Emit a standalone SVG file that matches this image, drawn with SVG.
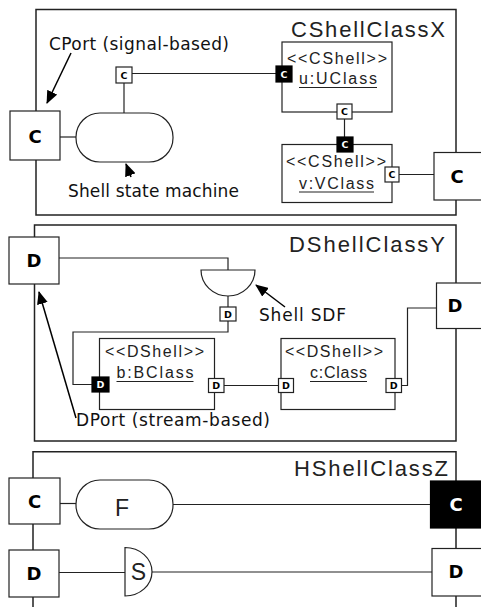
<svg xmlns="http://www.w3.org/2000/svg" width="481" height="607" viewBox="0 0 481 607">
<style>
.fr{fill:none;stroke:#222;stroke-width:1.5}
.ln{fill:none;stroke:#222;stroke-width:1.2}
.ul{fill:none;stroke:#222;stroke-width:1.2}
.bx{fill:#fff;stroke:#222;stroke-width:1.2}
.bk{fill:#000;stroke:#000;stroke-width:1.2}
.title{font-family:"Liberation Sans",Arial,sans-serif;font-size:22px;fill:#222}
.st{font-family:"Liberation Sans",Arial,sans-serif;font-size:16px;fill:#222;text-anchor:middle}
.nm{font-family:"Liberation Sans",Arial,sans-serif;font-size:16px;fill:#222;text-anchor:middle}
.big{font-family:"DejaVu Sans",sans-serif;font-weight:bold;font-size:18px;fill:#000;text-anchor:middle}
.sm{font-family:"DejaVu Sans",sans-serif;font-weight:bold;font-size:9.5px;fill:#000;text-anchor:middle}
.smw{font-family:"DejaVu Sans",sans-serif;font-weight:bold;font-size:9.5px;fill:#fff;text-anchor:middle}
.bigw{font-family:"DejaVu Sans",sans-serif;font-weight:bold;font-size:18px;fill:#fff;text-anchor:middle}
.note{font-family:"DejaVu Sans",sans-serif;font-size:17px;fill:#111}
.lbl{font-family:"Liberation Sans",Arial,sans-serif;font-size:23px;fill:#222;text-anchor:middle}
.ar{fill:none;stroke:#000;stroke-width:1.5;marker-end:url(#ah)}
</style>
<defs>
<marker id="ah" viewBox="0 0 13 11" refX="12" refY="5.5" markerWidth="13" markerHeight="11" markerUnits="userSpaceOnUse" orient="auto">
<path d="M0,0 L13,5.5 L0,11 Z" fill="#000"/>
</marker>
</defs>

<g id="frames">
<rect class="fr" x="36" y="9.5" width="420" height="205.5"/>
<rect class="fr" x="34.5" y="225" width="421.5" height="216"/>
<path class="fr" d="M33,607 V451.7 H456 V607"/>
<text class="title" x="445" y="36.5" text-anchor="end" textLength="154">CShellClassX</text>
<text class="title" x="445" y="251.5" text-anchor="end" textLength="156">DShellClassY</text>
<text class="title" x="448" y="476" text-anchor="end" textLength="154">HShellClassZ</text>
</g>

<g id="connectors">
<path class="ln" d="M60,137 H76"/>
<path class="ln" d="M124,83 V113"/>
<path class="ln" d="M132,73.5 H276"/>
<path class="ln" d="M344.5,119 V137"/>
<path class="ln" d="M399,174.5 H434"/>
<path class="ln" d="M59,258 H228 V270"/>
<path class="ln" d="M228,296 V307"/>
<path class="ln" d="M228,321 V332 H73 V384.5 H92"/>
<path class="ln" d="M224,385.5 H278.5"/>
<path class="ln" d="M401.5,385.5 H407.5 V308 H436.5"/>
<path class="ln" d="M60,503.5 H76"/>
<path class="ln" d="M173,504.5 H430.5"/>
<path class="ln" d="M59,572.5 H125"/>
<path class="ln" d="M152,572 H432"/>
</g>

<g id="annotations">
<path class="ar" d="M71,53 L47,103"/>
<text class="note" x="49" y="50" textLength="180">CPort (signal-based)</text>
<path class="ar" d="M131,177 L126,164"/>
<text class="note" x="68" y="197" textLength="171">Shell state machine</text>
<path class="ar" d="M285,307 L256,285"/>
<text class="note" x="259" y="321" textLength="87">Shell SDF</text>
<path class="ar" d="M76,418 L39,292"/>
<text class="note" x="76" y="426" textLength="194">DPort (stream-based)</text>
</g>

<g id="cport-left-x">
<rect class="bx" x="10" y="111" width="50" height="49"/>
<text class="big" x="35" y="142.5">C</text>
</g>
<g id="sm-port">
<rect class="bx" x="116" y="67" width="16" height="16"/>
<text class="sm" x="124" y="78.5">C</text>
</g>
<g id="state-machine">
<rect class="bx" x="76" y="113" width="97" height="49" rx="24" ry="24"/>
</g>
<g id="u-uclass">
<rect class="bx" x="282" y="42" width="110" height="70"/>
<text class="st" x="337" y="63.5" textLength="100">&lt;&lt;CShell&gt;&gt;</text>
<text class="nm" x="338" y="84" textLength="78">u:UClass</text>
<path class="ul" d="M299,87.5 H377"/>
<rect class="bk" x="276" y="66" width="16" height="16"/>
<text class="smw" x="284" y="77.5">C</text>
<rect class="bx" x="337" y="104" width="15" height="15"/>
<text class="sm" x="344.5" y="115">C</text>
</g>
<g id="v-vclass">
<rect class="bx" x="282" y="144.5" width="110" height="58"/>
<text class="st" x="336" y="166.5" textLength="100">&lt;&lt;CShell&gt;&gt;</text>
<text class="nm" x="336.5" y="189" textLength="75">v:VClass</text>
<path class="ul" d="M299,192 H374"/>
<rect class="bk" x="337" y="137" width="16" height="15"/>
<text class="smw" x="345" y="148">C</text>
<rect class="bx" x="385" y="167" width="14" height="15"/>
<text class="sm" x="392" y="178">C</text>
</g>
<g id="cport-right-x">
<rect class="bx" x="434" y="152.5" width="50" height="47.5"/>
<text class="big" x="457" y="183">C</text>
</g>

<g id="dport-left-y">
<rect class="bx" x="9" y="237" width="50" height="47"/>
<text class="big" x="34" y="267">D</text>
</g>
<g id="shell-sdf">
<path class="bx" d="M201,270 H255 A27,26 0 0 1 201,270 Z"/>
<rect class="bx" x="220" y="307" width="16" height="14"/>
<text class="sm" x="228" y="317.5">D</text>
</g>
<g id="b-bclass">
<rect class="bx" x="99.5" y="338.5" width="115" height="71"/>
<text class="st" x="154.5" y="356.5" textLength="99">&lt;&lt;DShell&gt;&gt;</text>
<text class="nm" x="155" y="378" textLength="77">b:BClass</text>
<path class="ul" d="M116.5,381.5 H193.5"/>
<rect class="bk" x="92" y="377" width="17" height="15"/>
<text class="smw" x="100.5" y="388">D</text>
<rect class="bx" x="208.5" y="378.5" width="15.5" height="14"/>
<text class="sm" x="216.2" y="389">D</text>
</g>
<g id="c-class">
<rect class="bx" x="281" y="338.5" width="114" height="71"/>
<text class="st" x="334" y="356.5" textLength="98">&lt;&lt;DShell&gt;&gt;</text>
<text class="nm" x="338.5" y="378" textLength="57">c:Class</text>
<path class="ul" d="M310,381.5 H367"/>
<rect class="bx" x="278.5" y="378.5" width="15" height="14"/>
<text class="sm" x="286" y="389">D</text>
<rect class="bx" x="386" y="378.5" width="15.5" height="14"/>
<text class="sm" x="393.7" y="389">D</text>
</g>
<g id="dport-right-y">
<rect class="bx" x="436.5" y="283" width="50" height="45.5"/>
<text class="big" x="455" y="312">D</text>
</g>

<g id="cport-left-z">
<rect class="bx" x="9" y="478" width="51" height="46"/>
<text class="big" x="34.5" y="508">C</text>
</g>
<g id="f-state">
<rect class="bx" x="76" y="480" width="97" height="49" rx="24" ry="24"/>
<text class="lbl" x="122" y="515.5">F</text>
</g>
<g id="cport-right-z">
<rect class="bk" x="430.5" y="481" width="55" height="47"/>
<text class="bigw" x="456" y="511">C</text>
</g>
<g id="dport-left-z">
<rect class="bx" x="9" y="550" width="50" height="47"/>
<text class="big" x="34" y="579.5">D</text>
</g>
<g id="s-sdf">
<path class="bx" d="M125,547.5 V596 A27,24.25 0 0 0 125,547.5 Z"/>
<text class="lbl" x="138.5" y="580">S</text>
</g>
<g id="dport-right-z">
<rect class="bx" x="432" y="548.5" width="52" height="47.5"/>
<text class="big" x="456" y="578">D</text>
</g>
</svg>
